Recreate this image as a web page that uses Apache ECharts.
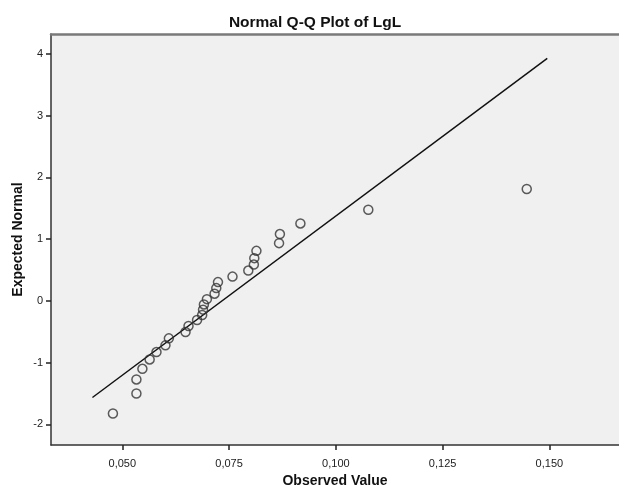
<!DOCTYPE html>
<html>
<head>
<meta charset="utf-8">
<script src="https://cdn.jsdelivr.net/npm/echarts@6/dist/echarts.min.js"></script>
<style>
  html, body { margin: 0; padding: 0; background: #ffffff; }
  #chart { width: 619px; height: 488px; }
</style>
</head>
<body>
<div id="chart"></div>
<script>
// Observed LgL values and their expected normal quantiles
var observed = [0.0478, 0.0533, 0.0533, 0.0547, 0.0564, 0.0580, 0.0601, 0.0609,
                0.0648, 0.0655, 0.0675, 0.0687, 0.0689, 0.0691, 0.0698, 0.0716,
                0.0720, 0.0724, 0.0758, 0.0795, 0.0808, 0.0809, 0.0814, 0.0867,
                0.0869, 0.0917, 0.1076, 0.1447];
var expected = [-1.826, -1.502, -1.274, -1.102, -0.950, -0.831, -0.722, -0.609,
                -0.506, -0.409, -0.312, -0.231, -0.144, -0.060, 0.026, 0.114,
                0.205, 0.302, 0.391, 0.489, 0.586, 0.690, 0.808, 0.933,
                1.080, 1.252, 1.474, 1.810];

// Reference line endpoints (observed, expected normal)
var lineX = [0.0430, 0.1495];
var lineY = [-1.567, 3.925];

// Tick positions
var xTicks = [0.050, 0.075, 0.100, 0.125, 0.150];
var yTicks = [-2, -1, 0, 1, 2, 3, 4];

var points = observed.map(function (v, i) { return [v, expected[i]]; });
var refLine = lineX.map(function (v, i) { return [v, lineY[i]]; });

var font = 'Liberation Sans, Arial, sans-serif';
var chart = echarts.init(document.getElementById('chart'), null, { renderer: 'canvas' });

chart.setOption({
  animation: false,
  backgroundColor: '#ffffff',
  title: {
    text: 'Normal Q-Q Plot of LgL',
    left: 310, top: 10, textAlign: 'center',
    textStyle: { fontFamily: font, fontSize: 15.5, fontWeight: 'bold', color: '#111' }
  },
  grid: {
    left: 51, top: 34, right: 0, bottom: 43,
    outerBoundsMode: 'none', containLabel: false,
    show: true, backgroundColor: '#eff0ef', borderWidth: 0
  },
  xAxis: [{
    type: 'value', position: 'bottom',
    min: 0.0333, max: 0.1663,
    name: 'Observed Value', nameLocation: 'middle', nameGap: 29, nameMoveOverlap: false,
    nameTextStyle: { fontFamily: font, fontSize: 14, fontWeight: 'bold', color: '#111' },
    axisLine: { show: true, onZero: false, lineStyle: { color: '#333', width: 1.5 } },
    axisTick: { show: true, length: 5, customValues: xTicks, lineStyle: { color: '#222', width: 1.5 } },
    axisLabel: {
      customValues: xTicks, margin: 13,
      fontFamily: font, fontSize: 11, color: '#222',
      formatter: function (v) { return v.toFixed(3).replace('.', ','); }
    },
    splitLine: { show: false }
  }, {
    type: 'value', position: 'top',
    min: 0.0333, max: 0.1663,
    axisLine: { show: true, onZero: false, lineStyle: { color: '#7a7a7a', width: 2.5 } },
    axisTick: { show: false }, axisLabel: { show: false }, splitLine: { show: false }
  }],
  yAxis: {
    type: 'value',
    min: -2.336, max: 4.32,
    name: 'Expected Normal', nameLocation: 'middle', nameGap: 26, nameRotate: 90, nameMoveOverlap: false,
    nameTextStyle: { fontFamily: font, fontSize: 14, fontWeight: 'bold', color: '#111' },
    axisLine: { show: true, onZero: false, lineStyle: { color: '#333', width: 1.5 } },
    axisTick: { show: true, length: 5, customValues: yTicks, lineStyle: { color: '#222', width: 1.5 } },
    axisLabel: { customValues: yTicks, margin: 8, fontFamily: font, fontSize: 11, color: '#222' },
    splitLine: { show: false }
  },
  series: [{
    type: 'line',
    data: refLine,
    symbol: 'none',
    lineStyle: { color: '#111', width: 1.5 },
    silent: true, z: 2
  }, {
    type: 'scatter',
    data: points,
    symbol: 'circle', symbolSize: 9,
    itemStyle: { color: 'rgba(0,0,0,0)', borderColor: '#333', borderWidth: 1.5 },
    z: 3
  }]
});
</script>
</body>
</html>
